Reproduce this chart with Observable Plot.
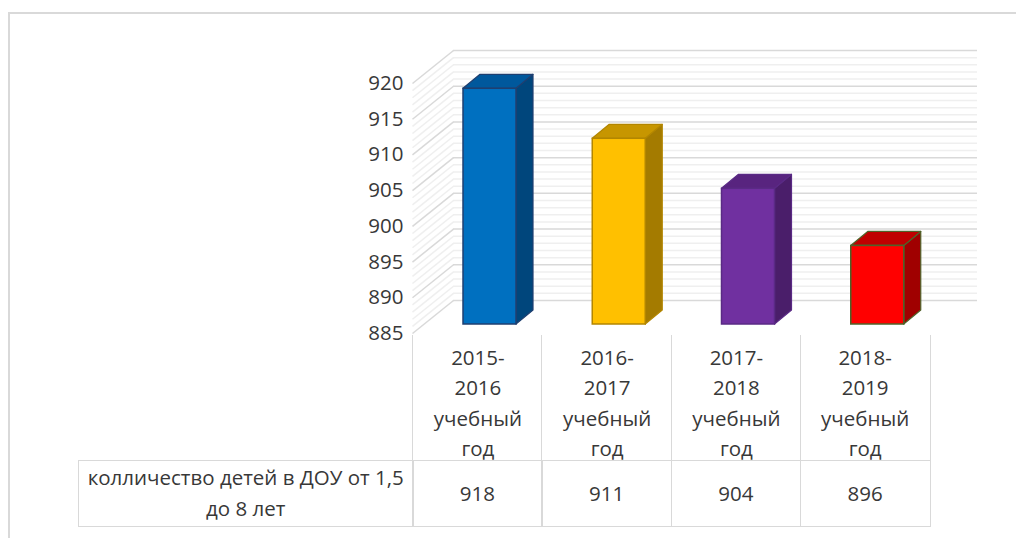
<!DOCTYPE html>
<html>
<head>
<meta charset="utf-8">
<script src="https://cdn.jsdelivr.net/npm/d3@7"></script>
<script src="https://cdn.jsdelivr.net/npm/@observablehq/plot@0.6"></script>
<style>
  html, body { margin: 0; padding: 0; background: #fff; }
  #wrap { position: relative; width: 1016px; height: 538px; overflow: hidden; font-family: "Open Sans", "Noto Sans", sans-serif; color: #383838; }
  #border { position: absolute; left: 8px; top: 12px; width: 1030px; height: 560px; border: 2px solid #d9d9d9; box-sizing: border-box; }
  #chart { position: absolute; left: 0; top: 0; }
  .cell { position: absolute; box-sizing: border-box; text-align: center; font-size: 20.5px; }
</style>
</head>
<body>
<div id="wrap">
  <div id="border"></div>
  <div id="chart"></div>
</div>
<script>
// ---- data ----
const categories = ["2015-2016 учебный год", "2016-2017 учебный год", "2017-2018 учебный год", "2018-2019 учебный год"];
const values = [918, 911, 904, 896];
const seriesName = "колличество детей в ДОУ от 1,5 до 8 лет";
const frontColors = ["#0070c0", "#ffc000", "#7030a0", "#ff0000"];
const topColors = ["#00589c", "#c79600", "#58247f", "#c00000"];
const sideColors = ["#00467c", "#a47b00", "#4a1e6a", "#a00000"];
const outlineColors = ["#1f3f70", "#b38600", "#5a2a85", "#4f6228"];
const yTicks = [885, 890, 895, 900, 905, 910, 915, 920];
const yMinor = d3.range(885, 921, 1);
const yMin = 885, yMax = 920;

// ---- geometry (styles) ----
const W = 1016, H = 538;
const mLeft = 412, mRight = 1016 - 929, mTop = 83, mBottom = 538 - 333;
const pxX = (W - mLeft - mRight) / 4;          // px per column unit
const pxY = (H - mTop - mBottom) / (yMax - yMin); // px per value unit
const wallD = 41 / pxX, wallE = 33 / pxY;        // depth of chart walls in data units
const wallRight = (977 - mLeft) / pxX;
const barL = 51 / pxX, barR = 104 / pxX;          // bar front face within column
const barD = 17 / pxX, barE = 14 / pxY;           // bar depth
const barLift = -9;

const bars = categories.map((c, i) => ({
  cat: c, i, v: values[i],
  front: frontColors[i], top: topColors[i], side: sideColors[i], outline: outlineColors[i]
}));
const sidePts = bars.flatMap(b => [
  {cat: b.cat, x: b.i + barR, y1: yMin, y2: b.v, fill: b.side, stroke: b.outline},
  {cat: b.cat, x: b.i + barR + barD, y1: yMin + barE, y2: b.v + barE, fill: b.side, stroke: b.outline}
]);
const topPts = bars.flatMap(b => [
  {cat: b.cat, y: b.v, x1: b.i + barL, x2: b.i + barR, fill: b.top, stroke: b.outline},
  {cat: b.cat, y: b.v + barE, x1: b.i + barL + barD, x2: b.i + barR + barD, fill: b.top, stroke: b.outline}
]);

const chart = Plot.plot({
  width: W, height: H,
  marginLeft: mLeft, marginRight: mRight, marginTop: mTop, marginBottom: mBottom,
  x: {domain: [0, 4], axis: null},
  y: {domain: [yMin, yMax], axis: null},
  color: {type: "identity"},
  style: {fontFamily: "'Open Sans', 'Noto Sans', sans-serif", color: "#383838", background: "transparent", overflow: "visible"},
  marks: [
    // back wall minor + major gridlines
    Plot.ruleY(yMinor.filter(v => !yTicks.includes(v)), {y: d => d, x1: wallD, x2: wallRight, dy: -wallE * pxY, stroke: "#efefef", strokeWidth: 1.5}),
    Plot.ruleY(yTicks, {y: d => d, x1: wallD, x2: wallRight, dy: -wallE * pxY, stroke: "#d9d9d9", strokeWidth: 1.5}),
    // side wall
    Plot.link(yMinor.filter(v => !yTicks.includes(v)), {x1: 0, y1: d => d, x2: wallD, y2: d => d + wallE, stroke: "#efefef", strokeWidth: 1.5}),
    Plot.link(yTicks, {x1: 0, y1: d => d, x2: wallD, y2: d => d + wallE, stroke: "#d9d9d9", strokeWidth: 1.5}),
    // bars: side, top, front
    Plot.areaY(sidePts, {x: "x", y1: "y1", y2: "y2", z: "cat", fill: "fill", stroke: "stroke", strokeWidth: 1.2, dy: barLift}),
    Plot.areaX(topPts, {y: "y", x1: "x1", x2: "x2", z: "cat", fill: "fill", stroke: "stroke", strokeWidth: 1.2, dy: barLift}),
    Plot.rectY(bars, {x1: d => d.i + barL, x2: d => d.i + barR, y1: yMin, y2: "v", fill: "front", stroke: "outline", strokeWidth: 1.5, dy: barLift}),
    // y tick labels
    Plot.text(yTicks, {y: d => d, frameAnchor: "left", textAnchor: "end", dx: -9, fontSize: 20.5, fill: "#383838"})
  ]
});
document.getElementById("chart").appendChild(chart);

// ---- data table under the chart, aligned with the x scale ----
const xs = chart.scale("x");
const wrap = document.getElementById("wrap");
const line = "#d9d9d9";
function cell(left, top, width, height, html, borders, extra) {
  const d = document.createElement("div");
  d.className = "cell";
  Object.assign(d.style, {left: left + "px", top: top + "px", width: width + "px", height: height + "px"}, borders, extra || {});
  d.innerHTML = html;
  wrap.appendChild(d);
}
const headTop = 335, rowTop = 460, rowBottom = 527, tableLeft = 78;
categories.forEach((c, i) => {
  const l = xs.apply(i), r = xs.apply(i + 1);
  const lines = c.replace("-", "-\n").split(/[\n ]/);
  cell(l, headTop, r - l + 1.5, rowTop - headTop, lines.join("<br>"),
    {borderLeft: `1.5px solid ${line}`, borderRight: i === 3 ? `1.5px solid ${line}` : "none"},
    {lineHeight: "30.4px", paddingTop: "7px"});
  cell(l, rowTop, r - l + 1.5, rowBottom - rowTop, String(values[i]),
    {border: `1.5px solid ${line}`},
    {lineHeight: (rowBottom - rowTop - 3) + "px"});
});
cell(tableLeft, rowTop, xs.apply(0) - tableLeft + 1.5, rowBottom - rowTop, seriesName,
  {border: `1.5px solid ${line}`},
  {lineHeight: "31px", paddingTop: "1px", paddingLeft: "0px", paddingRight: "0px", whiteSpace: "normal"});
</script>
</body>
</html>
